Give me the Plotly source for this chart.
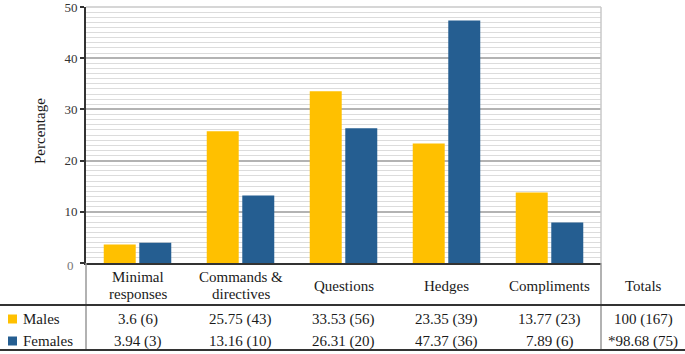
import plotly.graph_objects as go

# ---- data ----
categories = ["Minimal responses", "Commands & directives", "Questions", "Hedges", "Compliments"]
header_labels = [["Minimal", "responses"], ["Commands &", "directives"], ["Questions"], ["Hedges"], ["Compliments"]]
male_pct = [3.6, 25.75, 33.53, 23.35, 13.77]
male_n = [6, 43, 56, 39, 23]
female_pct = [3.94, 13.16, 26.31, 47.37, 7.89]
female_n = [3, 10, 20, 36, 6]
male_total = "100 (167)"
female_total = "*98.68 (75)"
series_names = ["Males", "Females"]
colors = ["#FFC000", "#255E91"]
y_ticks = [0, 10, 20, 30, 40, 50]

W, H = 685, 354
FONT = "Liberation Serif, Times New Roman, serif"

def px(x):
    return x / W

def py(y):
    return 1 - y / H

PLOT_L, PLOT_R = 86, 601
PLOT_T, PLOT_B = 7, 263
HDR_Y = 305
BOT_Y = 350
HEAD_C = 285.5
LINE_GAP = 17
ROW1_Y, ROW2_Y = 319, 341

fig = go.Figure()
fig.add_trace(go.Bar(x=categories, y=male_pct, name=series_names[0],
                     marker=dict(color=colors[0], line=dict(width=0))))
fig.add_trace(go.Bar(x=categories, y=female_pct, name=series_names[1],
                     marker=dict(color=colors[1], line=dict(width=0))))

fig.update_layout(
    width=W, height=H,
    margin=dict(l=0, r=0, t=0, b=0, pad=0, autoexpand=False),
    paper_bgcolor="white", plot_bgcolor="white",
    showlegend=False,
    barmode="group", bargap=0.31, bargroupgap=0.1,
    font=dict(family=FONT, size=15, color="#1a1a1a"),
    xaxis=dict(domain=[px(PLOT_L), px(PLOT_R)], showticklabels=False, automargin=False,
               showline=True, linecolor="#333", linewidth=2, ticks="",
               showgrid=False, zeroline=False),
    yaxis=dict(domain=[py(PLOT_B), py(PLOT_T)], range=[0, 50], automargin=False,
               tickvals=y_ticks, ticktext=["" if v == 0 else str(v) for v in y_ticks],
               ticklabeloverflow="allow",
               showline=True, linecolor="#333", linewidth=2,
               ticks="outside", ticklen=4, tickcolor="#333", tickwidth=1.5,
               tickfont=dict(family=FONT, size=13, color="#333"),
               showgrid=True, gridcolor="#b3b3b3", gridwidth=1.5,
               minor=dict(dtick=1, showgrid=True, gridcolor="#dcdcdc", gridwidth=1),
               zeroline=False),
)

shapes = []
# plot area border (top & right) light gray
shapes.append(dict(type="line", xref="paper", yref="paper", x0=px(PLOT_L), x1=px(PLOT_R),
                   y0=py(PLOT_T), y1=py(PLOT_T), line=dict(color="#c8c8c8", width=1.5), layer="below"))
shapes.append(dict(type="line", xref="paper", yref="paper", x0=px(PLOT_R), x1=px(PLOT_R),
                   y0=py(PLOT_T), y1=py(PLOT_B), line=dict(color="#c8c8c8", width=1.5)))
# table verticals
shapes.append(dict(type="line", xref="paper", yref="paper", x0=px(PLOT_L), x1=px(PLOT_L),
                   y0=py(PLOT_B), y1=py(BOT_Y), line=dict(color="#999", width=1.5)))
shapes.append(dict(type="line", xref="paper", yref="paper", x0=px(PLOT_R), x1=px(PLOT_R),
                   y0=py(PLOT_B), y1=py(BOT_Y), line=dict(color="#999", width=1.5)))
# table horizontals
shapes.append(dict(type="line", xref="paper", yref="paper", x0=0, x1=1,
                   y0=py(HDR_Y), y1=py(HDR_Y), line=dict(color="#333", width=2)))
shapes.append(dict(type="line", xref="paper", yref="paper", x0=0, x1=1,
                   y0=py(BOT_Y), y1=py(BOT_Y), line=dict(color="#333", width=2)))
# legend keys
for i, yy in enumerate([ROW1_Y, ROW2_Y]):
    shapes.append(dict(type="rect", xref="paper", yref="paper",
                       x0=px(8), x1=px(17), y0=py(yy - 4.5), y1=py(yy + 4.5),
                       fillcolor=colors[i], line=dict(width=0)))
fig.update_layout(shapes=shapes)

def note(text, x, y, xref="paper", size=15, color="#1a1a1a", **kw):
    d = dict(text=text, xref=xref, yref="paper", x=x, y=y, showarrow=False,
             xanchor=kw.pop("xanchor", "center"), yanchor="middle",
             font=dict(size=size, color=color, family=FONT))
    d.update(kw)
    return d

ann = []
ann.append(note("Percentage", px(40), py(131), textangle=-90))
ann.append(note("0", px(70), py(265), size=13, color="#777"))
for cat, lines in zip(categories, header_labels):
    n = len(lines)
    for k, line in enumerate(lines):
        yy = HEAD_C + (k - (n - 1) / 2) * LINE_GAP
        ann.append(note(line, cat, py(yy), xref="x"))
ann.append(note("Totals", px(643), py(HEAD_C)))
for name, yy in zip(series_names, [ROW1_Y, ROW2_Y]):
    ann.append(note(name, px(21), py(yy), xanchor="left"))
for cat, mp, mn, fp, fn in zip(categories, male_pct, male_n, female_pct, female_n):
    ann.append(note(f"{mp:g} ({mn})", cat, py(ROW1_Y), xref="x"))
    ann.append(note(f"{fp:g} ({fn})", cat, py(ROW2_Y), xref="x"))
ann.append(note(male_total, px(643), py(ROW1_Y)))
ann.append(note(female_total, px(643), py(ROW2_Y)))
fig.update_layout(annotations=ann)

fig.write_html("out.html", config={"displayModeBar": False},
               post_script="document.body.style.margin='0px';document.body.style.overflow='hidden';")
